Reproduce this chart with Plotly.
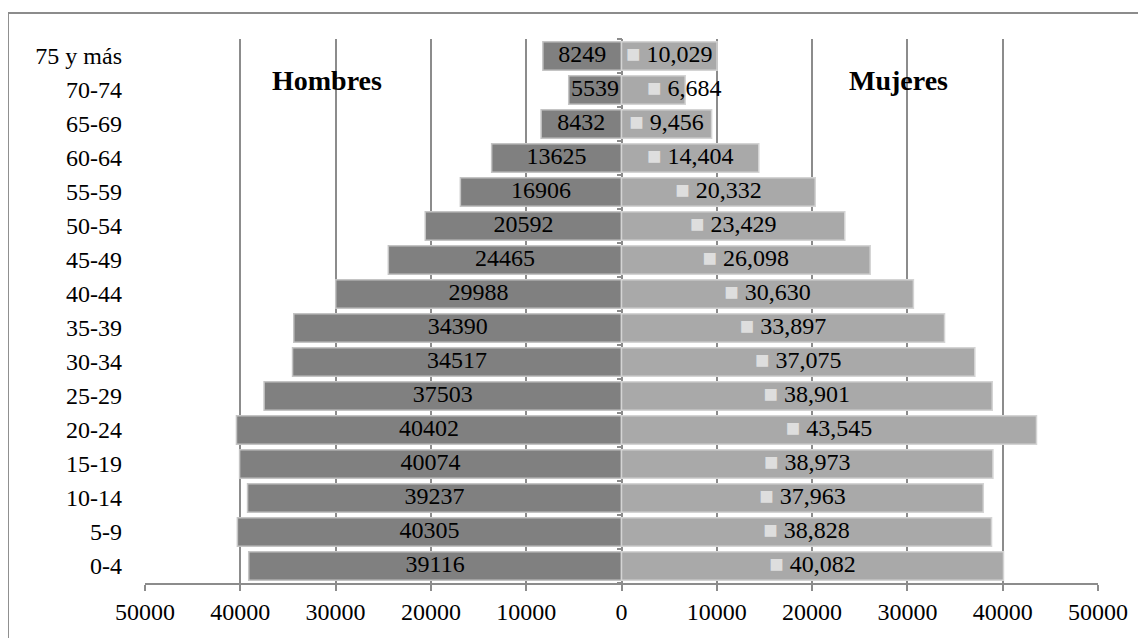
import plotly.graph_objects as go

categories = ["0-4", "5-9", "10-14", "15-19", "20-24", "25-29", "30-34", "35-39",
              "40-44", "45-49", "50-54", "55-59", "60-64", "65-69", "70-74", "75 y más"]
hombres = [39116, 40305, 39237, 40074, 40402, 37503, 34517, 34390,
           29988, 24465, 20592, 16906, 13625, 8432, 5539, 8249]
mujeres = [40082, 38828, 37963, 38973, 43545, 38901, 37075, 33897,
           30630, 26098, 23429, 20332, 14404, 9456, 6684, 10029]
tick_vals = [-50000, -40000, -30000, -20000, -10000, 0, 10000, 20000, 30000, 40000, 50000]
tick_text = ["50000", "40000", "30000", "20000", "10000", "0", "10000", "20000", "30000", "40000", "50000"]

FONT = "Liberation Serif, Times New Roman, serif"
FS = 24

# label placement: centred in the bar, or pushed right of centre when the bar is too short
fem_x = [v / 2 if v >= 8000 else v * 0.4 for v in mujeres]
fem_pos = ["middle center" if v >= 8000 else "middle right" for v in mujeres]

fig = go.Figure()
fig.add_trace(go.Bar(
    y=categories, x=[-v for v in hombres], orientation="h",
    marker=dict(color="#808080", line=dict(color="#c4c4c4", width=1.5)),
    hoverinfo="skip", showlegend=False,
))
fig.add_trace(go.Bar(
    y=categories, x=mujeres, orientation="h",
    marker=dict(color="#a9a9a9", line=dict(color="#d4d4d4", width=1.5)),
    hoverinfo="skip", showlegend=False,
))
fig.add_trace(go.Scatter(
    y=categories, x=[-v / 2 for v in hombres], mode="text",
    text=[str(v) for v in hombres], textposition="middle center",
    textfont=dict(family=FONT, size=FS, color="black"),
    hoverinfo="skip", showlegend=False,
))
fig.add_trace(go.Scatter(
    y=categories, x=fem_x, mode="text",
    text=['<span style="color:#dedede">■</span> ' + f"{v:,}" for v in mujeres],
    textposition=fem_pos,
    textfont=dict(family=FONT, size=FS, color="black"),
    hoverinfo="skip", showlegend=False,
))
# axis line at zero with small ticks between categories
fig.add_trace(go.Scatter(x=[0], y=[categories[0]], yaxis="y2", mode="markers",
                         marker=dict(opacity=0), hoverinfo="skip", showlegend=False))

fig.update_layout(
    width=1146, height=638,
    margin=dict(l=137, r=56, t=31, b=63),
    barmode="overlay", bargap=0.16,
    plot_bgcolor="white", paper_bgcolor="white",
    font=dict(family=FONT, size=FS, color="black"),
    xaxis=dict(range=[-50000, 50000], tickvals=tick_vals, ticktext=tick_text,
               showgrid=True, gridcolor="#8c8c8c", gridwidth=2,
               zeroline=True, zerolinecolor="#8c8c8c", zerolinewidth=2,
               showline=True, linecolor="#8c8c8c", linewidth=2,
               ticks="outside", ticklen=6, tickcolor="#8c8c8c", tickwidth=2,
               tickfont=dict(family=FONT, size=FS), automargin=False, fixedrange=True),
    yaxis=dict(categoryorder="array", categoryarray=categories, range=[-0.5, 15.5],
               showgrid=False, showline=False, ticks="", automargin=False,
               tickfont=dict(family=FONT, size=FS), ticklabelstandoff=22, fixedrange=True),
    yaxis2=dict(overlaying="y", anchor="free", position=0.5, side="left",
                categoryorder="array", categoryarray=categories,
                range=[-0.5, 15.5], type="category", automargin=False,
                tickson="boundaries", ticks="outside", ticklen=5, tickcolor="#8c8c8c", tickwidth=2,
                showticklabels=False, showgrid=False, showline=False, zeroline=False, fixedrange=True),
    annotations=[
        dict(text="<b>Hombres</b>", x=-30950, y=15, xref="x", yref="y", showarrow=False,
             yshift=-24, font=dict(family=FONT, size=28, color="black")),
        dict(text="<b>Mujeres</b>", x=29070, y=15, xref="x", yref="y", showarrow=False,
             yshift=-24, font=dict(family=FONT, size=28, color="black")),
    ],
    shapes=[
        dict(type="line", xref="paper", yref="paper", x0=-0.1438, x1=1.2, y0=1.0478, y1=1.0478,
             line=dict(color="#8c8c8c", width=2)),
        dict(type="line", xref="paper", yref="paper", x0=-0.1438, x1=-0.1438, y0=-0.2, y1=1.0478,
             line=dict(color="#8c8c8c", width=2)),
    ],
)

fig.write_html("out.html")
